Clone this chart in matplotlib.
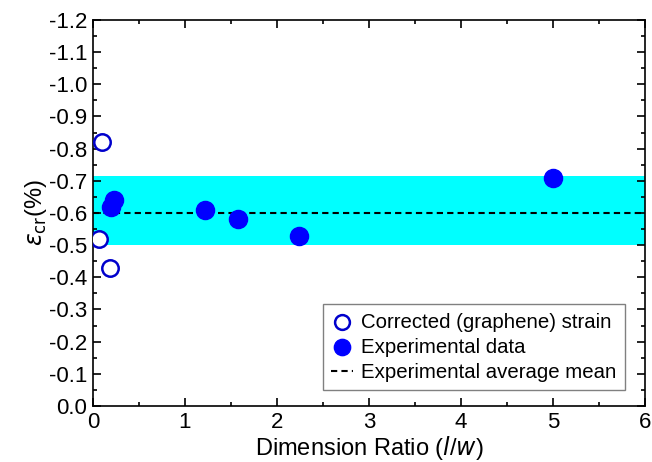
import matplotlib
matplotlib.use("Agg")
import matplotlib.pyplot as plt
from matplotlib.ticker import MultipleLocator

corr_x = [0.07, 0.10, 0.19]
corr_y = [-0.52, -0.82, -0.43]
exp_x = [0.20, 0.23, 1.22, 1.58, 2.24, 5.00]
exp_y = [-0.62, -0.64, -0.61, -0.58, -0.53, -0.71]
mean_val = -0.60
band_lo, band_hi = -0.50, -0.715

plt.rcParams['font.family'] = ['Liberation Sans', 'DejaVu Sans']
fig = plt.figure(figsize=(6.52, 4.62), dpi=100)
ax = fig.add_axes([93/652, 1-406/462, (645-93)/652, (406-20)/462])

ax.axhspan(band_hi, band_lo, color='#00ffff', zorder=0, lw=0)
ax.plot([0, 6], [mean_val, mean_val], ls=(0, (3, 2)), color='black', lw=1.5,
        label='Experimental average mean', zorder=2)
ax.scatter(corr_x, corr_y, s=140, facecolors='white', edgecolors='#0000cc', linewidths=1.8,
           label='Corrected (graphene) strain', zorder=3)
ax.scatter(exp_x, exp_y, s=170, color='#0000ff', label='Experimental data', zorder=3)

ax.set_xlim(0, 6)
ax.set_ylim(0, -1.2)
ax.xaxis.set_major_locator(MultipleLocator(1))
ax.xaxis.set_minor_locator(MultipleLocator(0.5))
ax.yaxis.set_major_locator(MultipleLocator(0.1))
ax.yaxis.set_minor_locator(MultipleLocator(0.05))
ax.yaxis.set_major_formatter(matplotlib.ticker.FuncFormatter(lambda v, p: f"{v:.1f}" if abs(v) > 1e-9 else "0.0"))
ax.tick_params(which='both', direction='in', top=True, right=True, labelsize=16, width=1.2)
ax.tick_params(which='major', length=6, pad=4)
ax.tick_params(which='minor', length=3)
for s in ax.spines.values():
    s.set_linewidth(1.2)

ax.set_xlabel('Dimension Ratio ($\\it{l}$/$\\it{w}$)', fontsize=17, labelpad=1)
ax.set_ylabel('$\\varepsilon_{\\rm cr}$(%)', fontsize=17, labelpad=0)

h, l = ax.get_legend_handles_labels()
order = [1, 2, 0]
leg = ax.legend([h[i] for i in order], [l[i] for i in order], loc='lower right',
                fontsize=14.7, fancybox=False, edgecolor='gray', framealpha=1,
                handlelength=1.1, handletextpad=0.4, borderpad=0.4, labelspacing=0.3,
                borderaxespad=0, markerscale=0.9,
                bbox_to_anchor=((625-93)/552, (406-390)/386))
leg.get_frame().set_linewidth(1.0)

fig.savefig('out.png', dpi=100)
